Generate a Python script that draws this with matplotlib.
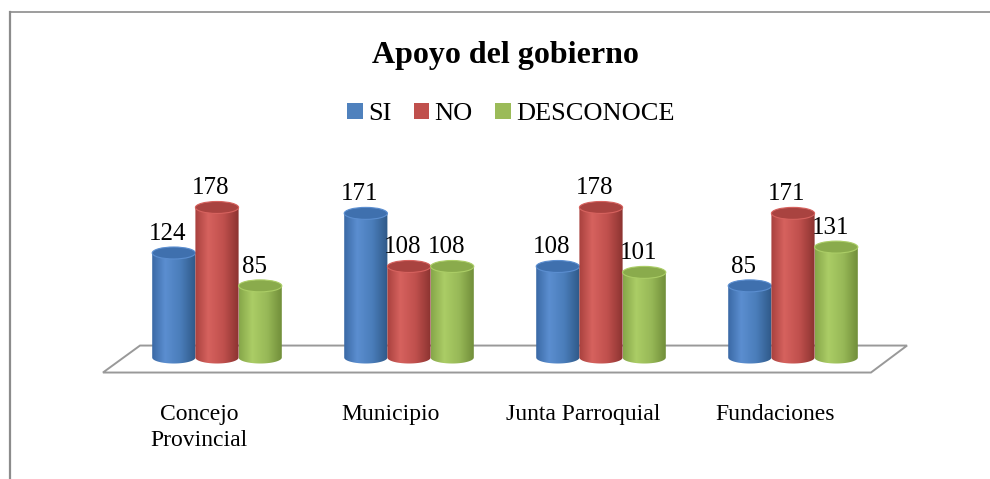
import numpy as np
import matplotlib
matplotlib.use('Agg')
import matplotlib.pyplot as plt
from matplotlib.colors import LinearSegmentedColormap
from matplotlib.patches import Ellipse, PathPatch, Polygon, Patch
from matplotlib.path import Path
from matplotlib.lines import Line2D

plt.rcParams['font.family'] = ['Liberation Serif', 'DejaVu Serif']

# datos
categorias = ['Concejo\nProvincial', 'Municipio', 'Junta Parroquial', 'Fundaciones']
series = ['SI', 'NO', 'DESCONOCE']
si = [124, 171, 108, 85]
no = [178, 108, 178, 171]
desconoce = [85, 108, 101, 131]
valores = [si, no, desconoce]

# colores (oscuro, claro, medio, oscuro) para simular el cilindro
gradientes = [
    ['#3A69A5', '#5B8ED0', '#4A7DBA', '#2E5887'],
    ['#A8403D', '#D6625E', '#C0504D', '#8B3330'],
    ['#86A649', '#ABCD66', '#97B857', '#6E8B37'],
]
tapas = ['#3F70AE', '#A94340', '#8AAB4C']
base = ['#4F81BD', '#C0504D', '#9BBB59']

fig = plt.figure(figsize=(9.9, 4.79), dpi=100)
ax = fig.add_axes([0, 0, 1, 1])
ax.set_axis_off()

ancho = 0.225
elip = 14.2  # alto de la elipse en unidades de datos

# piso
piso = Polygon([(-0.594, -17.8), (-0.401, 14.2), (3.594, 14.2), (3.406, -17.8)],
               closed=True, facecolor='white', edgecolor='#999999', lw=1.4, zorder=1)
ax.add_patch(piso)

grad = np.linspace(0, 1, 256).reshape(1, -1)
for j in range(len(series)):
    cmap = LinearSegmentedColormap.from_list('g%d' % j, list(zip([0, 0.3, 0.65, 1], gradientes[j])))
    for i, v in enumerate(valores[j]):
        xc = i + (j - 1) * ancho
        x0, x1 = xc - ancho / 2, xc + ancho / 2
        t = np.linspace(np.pi, 2 * np.pi, 40)
        arco = np.column_stack([xc + ancho / 2 * np.cos(t), elip / 2 * np.sin(t)])
        verts = np.vstack([[[x0, v]], arco, [[x1, v]], [[x0, v]]])
        cuerpo = PathPatch(Path(verts), facecolor='none', edgecolor='none', zorder=2 + i * 3 + j)
        ax.add_patch(cuerpo)
        im = ax.imshow(grad, cmap=cmap, extent=(x0, x1, -elip / 2, v), aspect='auto',
                       zorder=2 + i * 3 + j, interpolation='bilinear')
        im.set_clip_path(cuerpo)
        ax.add_patch(Ellipse((xc, v), ancho, elip, facecolor=tapas[j],
                             edgecolor=gradientes[j][1], lw=0.8, zorder=2.5 + i * 3 + j))
        ax.text(xc - 0.031, v + 15.4, str(v), ha='center', va='baseline',
                fontsize=18, zorder=30)

for i, c in enumerate(categorias):
    ax.text(i - 0.094, -55.0, c, ha='center', va='top', fontsize=17, linespacing=1.3)

ax.set_xlim(-1.1302, 4.026)
ax.set_ylim(-144.1, 424.1)

fig.text(0.5106, 1 - 63 / 479, 'Apoyo del gobierno', ha='center', va='baseline',
         fontsize=23, fontweight='bold')

handles = [Patch(facecolor=base[k], edgecolor='none') for k in range(3)]
fig.legend(handles, series, loc='center', bbox_to_anchor=(0.516, 1 - 114 / 479), ncol=3,
           frameon=False, fontsize=19, handlelength=0.6, handleheight=0.6,
           handletextpad=0.2, columnspacing=0.85, borderaxespad=0)

# bordes
fig.add_artist(Line2D([10 / 990, 1], [1 - 11.5 / 479, 1 - 11.5 / 479],
                      transform=fig.transFigure, color='#8c8c8c', lw=1.2))
fig.add_artist(Line2D([10 / 990, 10 / 990], [1 - 11.5 / 479, 0],
                      transform=fig.transFigure, color='#8c8c8c', lw=1.6))

fig.savefig('out.png', dpi=100)
